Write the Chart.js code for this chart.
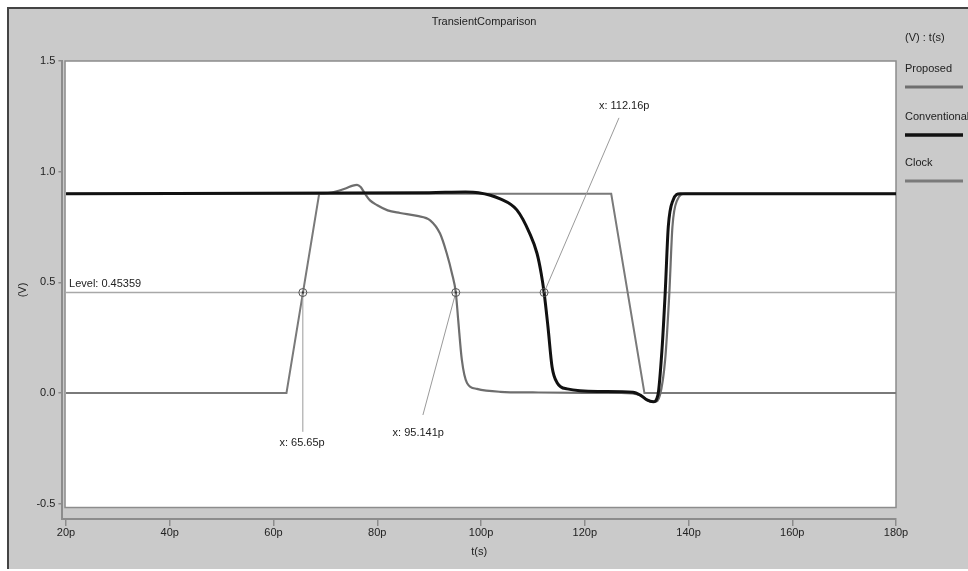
<!DOCTYPE html>
<html>
<head>
<meta charset="utf-8">
<script src="https://cdn.jsdelivr.net/npm/chart.js@4/dist/chart.umd.min.js"></script>
<style>
    html, body { margin: 0; padding: 0; background: #fff; }
    canvas { display: block; }
</style>
</head>
<body>
<canvas id="chart" width="968" height="571"></canvas>
<script>
"use strict";

// Values (time in ps, voltage in V)
const proposedT = [20, 62, 68.8, 70.5, 72, 74, 75.3, 76.1, 76.8, 77.5, 78.6, 80, 82, 84.4, 87.7, 90.2, 92.1, 93.4,
    94.4, 95.141, 95.6, 96.3, 97.3, 99.2, 103.7, 110, 120, 127, 130.7, 132.2, 133.5, 134.5, 135.5, 136.3,
    136.9, 137.8, 139.3, 150, 180];
const proposedV = [0.9, 0.9, 0.9, 0.903, 0.91, 0.925, 0.937, 0.94, 0.93, 0.905, 0.87, 0.848, 0.825, 0.813, 0.8,
    0.78, 0.72, 0.63, 0.54, 0.4536, 0.33, 0.15, 0.045, 0.018, 0.005, 0.002, 0, 0, -0.01, -0.035, -0.04, -0.01,
    0.15, 0.45, 0.75, 0.87, 0.9, 0.9, 0.9];

const conventionalT = [20, 90, 97, 99.5, 103.7, 106.9, 109.4, 110.8, 111.6, 112.16, 112.9, 113.7, 114.7, 116.6,
    122.9, 129.3, 130.7, 132, 133.2, 134.1, 134.9, 135.5, 136.1, 137, 138.4, 150, 180];
const conventionalV = [0.9, 0.905, 0.908, 0.905, 0.877, 0.827, 0.72, 0.63, 0.54, 0.4536, 0.3, 0.117, 0.045, 0.018,
    0.006, 0.003, -0.01, -0.032, -0.04, -0.01, 0.2, 0.45, 0.75, 0.87, 0.9, 0.9, 0.9];

const clockT = [20, 62.5, 68.8, 125.1, 131.5, 180];
const clockV = [0, 0, 0.9, 0.9, 0, 0];

const seriesNames = ["Proposed", "Conventional", "Clock"];
const xTicks = [20, 40, 60, 80, 100, 120, 140, 160, 180];
const yTicks = [-0.5, 0, 0.5, 1, 1.5];

// Level crossing markers
const levelValue = 0.45359;
const crossX = [65.65, 95.141, 112.16];
const crossLabels = ["x: 65.65p", "x: 95.141p", "x: 112.16p"];

// Where the leader lines end and the labels sit (data units)
const leaderEnd = [[65.65, -0.176], [88.8, -0.1], [126.6, 1.243]];
const labelPos = [[65.5, -0.226], [87.9, -0.18], [127.6, 1.297]];

const FONT = "\"Liberation Sans\", Arial, sans-serif";
const TEXT = "#222";

function toPoints(ts, vs) {
    return ts.map((t, i) => ({ x: t, y: vs[i] }));
}

const panelPlugin = {
    id: "panel",
    beforeDraw(chart) {
        const { ctx, chartArea, scales } = chart;
        ctx.save();
        ctx.fillStyle = "#fff";
        ctx.fillRect(0, 0, chart.width, chart.height);
        ctx.fillStyle = "#cacaca";
        ctx.fillRect(8, 8, chart.width - 8, chart.height - 10);
        ctx.strokeStyle = "#444";
        ctx.lineWidth = 2;
        ctx.beginPath();
        ctx.moveTo(8, chart.height - 2);
        ctx.lineTo(8, 8);
        ctx.lineTo(chart.width, 8);
        ctx.stroke();

        // white plotting box
        const left = scales.x.getPixelForValue(20) - 1;
        const bottom = scales.y.getPixelForValue(-0.5) + 4;
        ctx.fillStyle = "#fff";
        ctx.fillRect(left, chartArea.top, chartArea.right - left, bottom - chartArea.top);
        ctx.strokeStyle = "#8c8c8c";
        ctx.lineWidth = 1.5;
        ctx.strokeRect(left, chartArea.top, chartArea.right - left, bottom - chartArea.top);

        ctx.fillStyle = TEXT;
        ctx.font = `11px ${FONT}`;
        ctx.textAlign = "center";
        ctx.textBaseline = "middle";
        ctx.fillText("TransientComparison", 484, 22);
        ctx.restore();
    },
    beforeDatasetsDraw(chart) {
        const { ctx, chartArea, scales } = chart;
        const y = scales.y.getPixelForValue(levelValue);
        const left = scales.x.getPixelForValue(20);
        ctx.save();
        ctx.strokeStyle = "#a8a8a8";
        ctx.lineWidth = 1.5;
        ctx.beginPath();
        ctx.moveTo(left, y);
        ctx.lineTo(chartArea.right, y);
        ctx.stroke();
        ctx.fillStyle = TEXT;
        ctx.font = `11px ${FONT}`;
        ctx.textAlign = "left";
        ctx.textBaseline = "bottom";
        ctx.fillText(`Level: ${levelValue}`, left + 3, y - 3);
        ctx.restore();
    },
    afterDatasetsDraw(chart) {
        const { ctx, scales } = chart;
        const yLevel = scales.y.getPixelForValue(levelValue);
        ctx.save();
        ctx.font = `11px ${FONT}`;
        ctx.textAlign = "center";
        ctx.textBaseline = "middle";
        crossX.forEach((cx, i) => {
            const px = scales.x.getPixelForValue(cx);
            const ex = scales.x.getPixelForValue(leaderEnd[i][0]);
            const ey = scales.y.getPixelForValue(leaderEnd[i][1]);
            ctx.strokeStyle = "#9a9a9a";
            ctx.lineWidth = 1;
            ctx.beginPath();
            ctx.moveTo(px, yLevel);
            ctx.lineTo(ex, ey);
            ctx.stroke();

            ctx.strokeStyle = "#555";
            ctx.beginPath();
            ctx.arc(px, yLevel, 4, 0, Math.PI * 2);
            ctx.stroke();
            ctx.fillStyle = "#333";
            ctx.fillRect(px - 1, yLevel - 1, 2, 2);

            ctx.fillStyle = TEXT;
            ctx.fillText(crossLabels[i],
                scales.x.getPixelForValue(labelPos[i][0]),
                scales.y.getPixelForValue(labelPos[i][1]));
        });
        ctx.restore();
    },
    afterDraw(chart) {
        const { ctx } = chart;
        ctx.save();
        ctx.fillStyle = TEXT;
        ctx.font = `11px ${FONT}`;
        ctx.textAlign = "left";
        ctx.textBaseline = "middle";
        ctx.fillText("(V) : t(s)", 905, 38);
        const rows = [69, 117, 163];
        chart.data.datasets.forEach((ds, i) => {
            ctx.fillStyle = TEXT;
            ctx.fillText(ds.label, 905, rows[i]);
            ctx.strokeStyle = ds.borderColor;
            ctx.lineWidth = i === 1 ? 3.5 : 3;
            ctx.beginPath();
            ctx.moveTo(905, rows[i] + 18);
            ctx.lineTo(963, rows[i] + 18);
            ctx.stroke();
        });
        ctx.restore();
    }
};

const tickFont = { family: FONT, size: 11 };

new Chart(document.getElementById("chart"), {
    type: "line",
    data: {
        datasets: [
            {
                label: seriesNames[0],
                data: toPoints(proposedT, proposedV),
                borderColor: "#6e6e6e",
                borderWidth: 2.2,
                cubicInterpolationMode: "monotone",
                order: 1
            },
            {
                label: seriesNames[1],
                data: toPoints(conventionalT, conventionalV),
                borderColor: "#111",
                borderWidth: 3,
                cubicInterpolationMode: "monotone",
                order: 0
            },
            {
                label: seriesNames[2],
                data: toPoints(clockT, clockV),
                borderColor: "#7a7a7a",
                borderWidth: 2,
                tension: 0,
                order: 2
            }
        ]
    },
    options: {
        responsive: false,
        animation: false,
        elements: { point: { radius: 0 } },
        layout: { padding: { left: 8, top: 61, right: 72, bottom: 0 } },
        plugins: {
            legend: { display: false },
            tooltip: { enabled: false },
            title: { display: false }
        },
        scales: {
            x: {
                type: "linear",
                min: 19.3,
                max: 180,
                afterFit(scale) {
                    scale.height = 52;
                },
                afterBuildTicks(scale) {
                    scale.ticks = xTicks.map((v) => ({ value: v }));
                },
                ticks: {
                    autoSkip: false,
                    maxRotation: 0,
                    padding: 0,
                    color: TEXT,
                    font: tickFont,
                    callback: (v) => `${v}p`
                },
                grid: { drawOnChartArea: false, tickLength: 7, color: "#8c8c8c", lineWidth: 1.5 },
                border: { color: "#8c8c8c", width: 2 },
                title: { display: true, text: "t(s)", color: TEXT, font: tickFont, padding: { top: 0, bottom: 12 } }
            },
            y: {
                min: -0.57,
                max: 1.5,
                afterFit(scale) {
                    scale.width = 54.4;
                },
                afterBuildTicks(scale) {
                    scale.ticks = yTicks.map((v) => ({ value: v }));
                },
                ticks: {
                    padding: 3,
                    color: TEXT,
                    font: tickFont,
                    callback: (v) => v.toFixed(1)
                },
                grid: { drawOnChartArea: false, tickLength: 4, color: "#8c8c8c", lineWidth: 1.5 },
                border: { color: "#8c8c8c", width: 2 },
                title: { display: true, text: "(V)", color: TEXT, font: tickFont, padding: { top: 8, bottom: 0 } }
            }
        }
    },
    plugins: [panelPlugin]
});
</script>
</body>
</html>
